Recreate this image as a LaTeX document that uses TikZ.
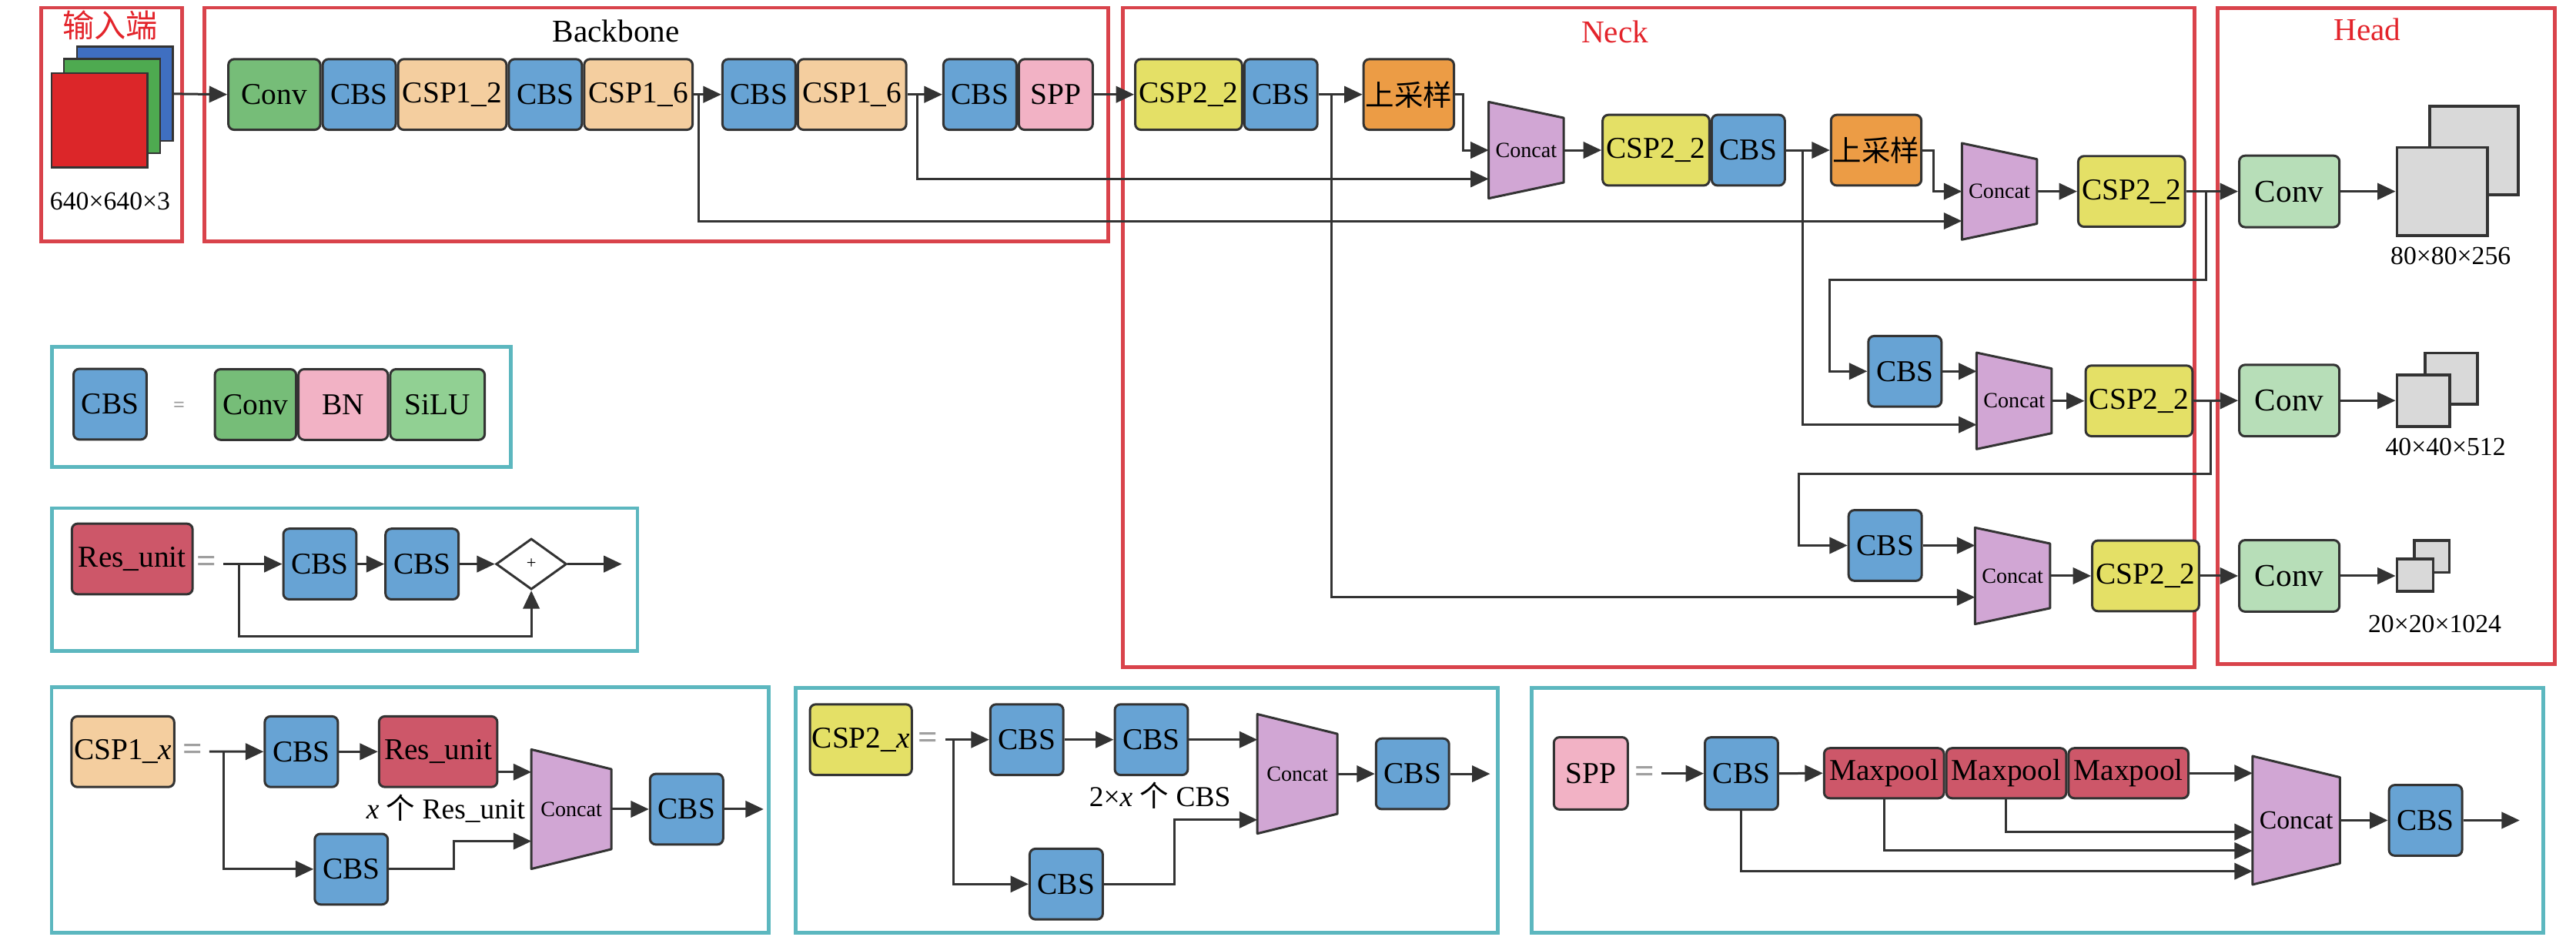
\documentclass[tikz,border=0pt]{standalone}
\usepackage{fontspec}
\setmainfont{Liberation Serif}
\newfontfamily\cjk{Noto Sans CJK SC}
\usepackage{xcolor}
\usepackage{tikz}
\usetikzlibrary{positioning, arrows.meta, calc, shapes.geometric, backgrounds}

\definecolor{linec}{HTML}{333333}
\definecolor{cbsc}{HTML}{67A3D4}
\definecolor{convc}{HTML}{76BD78}
\definecolor{csp1c}{HTML}{F4CE9F}
\definecolor{sppc}{HTML}{F2B2C5}
\definecolor{csp2c}{HTML}{E4E066}
\definecolor{upc}{HTML}{EC9C45}
\definecolor{catc}{HTML}{D1A6D4}
\definecolor{hconvc}{HTML}{B7DEB8}
\definecolor{fmc}{HTML}{D9D9D9}
\definecolor{resc}{HTML}{CD5769}
\definecolor{siluc}{HTML}{91D093}
\definecolor{framer}{HTML}{D9434B}
\definecolor{framet}{HTML}{5CB7BF}
\definecolor{titler}{HTML}{E3242B}
\definecolor{imgblue}{HTML}{3F6FC1}
\definecolor{imggreen}{HTML}{4EAA50}
\definecolor{imgred}{HTML}{DC2629}

\newcommand{\concatshape}[1]{%
  \filldraw[fill=catc, draw=linec, line width=0.8pt, line join=round]
    (#1.north west) -- ($(#1.north east)!0.165!(#1.south east)$)
    -- ($(#1.south east)!0.165!(#1.north east)$) -- (#1.south west) -- cycle;}

\begin{document}
\begin{tikzpicture}[x=0.02cm, y=-0.02cm, font=\fontsize{10.5}{12}\selectfont,
    blk/.style={draw=linec, line width=0.8pt, rounded corners=2pt, inner sep=0pt, minimum height=0.86cm},
    cbs/.style={blk, fill=cbsc, minimum width=0.89cm},
    csp1/.style={blk, fill=csp1c, minimum width=1.32cm},
    csp2/.style={blk, fill=csp2c, minimum width=1.3cm},
    up/.style={blk, fill=upc, minimum width=1.1cm, font=\fontsize{10}{12}\selectfont\cjk},
    hconv/.style={blk, fill=hconvc, minimum width=1.22cm, minimum height=0.87cm, font=\fontsize{11}{13}\selectfont},
    mp/.style={blk, fill=resc, minimum width=1.46cm, minimum height=0.61cm},
    cat/.style={inner sep=0pt, minimum width=0.9cm, minimum height=1.16cm, font=\fontsize{7.5}{9}\selectfont},
    catbig/.style={cat, minimum width=0.96cm, minimum height=1.44cm},
    catspp/.style={cat, minimum width=1.05cm, minimum height=1.55cm, font=\fontsize{9}{10}\selectfont},
    fm/.style={draw=linec, line width=1pt, fill=fmc, inner sep=0pt},
    imgsq/.style={draw=linec, line width=0.6pt, inner sep=0pt, minimum width=1.17cm, minimum height=1.15cm},
    sum/.style={diamond, draw=linec, line width=0.8pt, fill=white, inner sep=0pt, aspect=1.4,
      minimum width=0.86cm, minimum height=0.62cm, font=\fontsize{6}{7}\selectfont},
    eqb/.style={text=gray!75, font=\fontsize{12}{12}\selectfont\bfseries},
    eqs/.style={text=gray!75, font=\fontsize{7}{7}\selectfont\bfseries},
    dim/.style={font=\fontsize{9}{10}\selectfont},
    ttl/.style={font=\fontsize{11}{13}\selectfont},
    arr/.style={-{Triangle[length=2.2mm,width=2mm]}, draw=linec, line width=0.8pt},
    redframe/.style={draw=framer, line width=1.3pt},
    tealframe/.style={draw=framet, line width=1.3pt}]

  \useasboundingbox (0,0) rectangle (1568,576);

  % frames
  \draw[redframe] (25,4.7) rectangle (111,147);
  \draw[redframe] (124.5,4.7) rectangle (674.5,147);
  \draw[redframe] (683.5,4.7) rectangle (1335.6,406);
  \draw[redframe] (1350,5) rectangle (1555,404);
  \draw[tealframe] (31.75,211) rectangle (311,284.3);
  \draw[tealframe] (31.75,309.3) rectangle (388,396.4);
  \draw[tealframe] (31.4,418.3) rectangle (467.9,567.8);
  \draw[tealframe] (484.3,418.6) rectangle (911.8,567.8);
  \draw[tealframe] (932.1,418.6) rectangle (1548.1,567.8);

  \node[ttl, text=titler] (tin) at (67,15.6) {\cjk 输入端};
  \node[ttl] (tbb) at (375,18.7) {Backbone};
  \node[ttl, text=titler] (tneck) at (983,19.5) {Neck};
  \node[ttl, text=titler] (thead) at (1441,18.2) {Head};

  % input
  \node[imgsq, fill=imgblue] (imgb) at (76,57.1) {};
  \node[imgsq, fill=imggreen] (imgg) at (68.2,64.6) {};
  \node[imgsq, fill=imgred] (imgr) at (60.5,73.2) {};
  \node[dim] (din) at (67,122.6) {640×640×3};

  % backbone
  \node[blk, fill=convc, minimum width=1.12cm] (conv0) at (167,57.5) {Conv};
  \node[cbs, right=0pt of conv0] (cbs1) {CBS};
  \node[csp1, right=0pt of cbs1] (csp12) {CSP1\_2};
  \node[cbs, right=0pt of csp12] (cbs2) {CBS};
  \node[csp1, right=0pt of cbs2] (csp16a) {CSP1\_6};
  \node[cbs] (cbs3) at (462,57.5) {CBS};
  \node[csp1, right=0pt of cbs3] (csp16b) {CSP1\_6};
  \node[cbs] (cbs5) at (596.5,57.5) {CBS};
  \node[blk, fill=sppc, minimum width=0.9cm, right=0pt of cbs5] (spp) {SPP};

  % neck
  \node[csp2] (csp2a) at (723.5,57.5) {CSP2\_2};
  \node[cbs, right=0pt of csp2a] (cbs6) {CBS};
  \node[up] (up1) at (857.5,57.5) {上采样};
  \node[cat] (cat1) at (929,91.4) {Concat};
  \node[csp2] (csp2b) at (1008,91.4) {CSP2\_2};
  \node[cbs, right=0pt of csp2b] (cbs7) {CBS};
  \node[up] (up2) at (1142,91.4) {上采样};
  \node[cat] (cat2) at (1217,116.5) {Concat};
  \node[csp2] (csp2c) at (1297.5,116.5) {CSP2\_2};
  \node[cbs] (cbs8) at (1159.5,226) {CBS};
  \node[cat] (cat3) at (1226,244) {Concat};
  \node[csp2] (csp2d) at (1302,244) {CSP2\_2};
  \node[cbs] (cbs9) at (1147.5,332) {CBS};
  \node[cat] (cat4) at (1225,350.5) {Concat};
  \node[csp2] (csp2e) at (1306,350.5) {CSP2\_2};

  % head
  \node[hconv] (hc1) at (1393.5,116.5) {Conv};
  \node[hconv] (hc2) at (1393.5,243.8) {Conv};
  \node[hconv] (hc3) at (1393.5,350.5) {Conv};
  \node[fm, minimum width=1.08cm, minimum height=1.08cm] (fm1b) at (1506,91.5) {};
  \node[fm, minimum width=1.1cm, minimum height=1.07cm] (fm1f) at (1486.5,116.5) {};
  \node[fm, minimum width=0.64cm, minimum height=0.62cm] (fm2b) at (1492,230.4) {};
  \node[fm, minimum width=0.64cm, minimum height=0.63cm] (fm2f) at (1475,243.8) {};
  \node[fm, minimum width=0.43cm, minimum height=0.39cm] (fm3b) at (1480.2,338.6) {};
  \node[fm, minimum width=0.44cm, minimum height=0.39cm] (fm3f) at (1470,350) {};
  \node[dim] (d1) at (1491.7,156) {80×80×256};
  \node[dim] (d2) at (1488.6,272) {40×40×512};
  \node[dim] (d3) at (1482,380) {20×20×1024};

  \draw[arr] (imgb.east) -- (conv0.west);
  \draw[arr] (csp16a.east) -- (cbs3.west);
  \draw[arr] (csp16b.east) -- (cbs5.west);
  \draw[arr] (spp.east) -- (csp2a.west);
  \draw[arr] (cbs6.east) -- (up1.west);
  \draw[arr] (up1.east) -- ++(5,0) |- (cat1.west);
  \draw[arr] (cat1.east) -- (csp2b.west);
  \draw[arr] (cbs7.east) -- (up2.west);
  \draw[arr] (up2.east) -- ++(6.5,0) |- (cat2.west);
  \draw[arr] (cat2.east) -- (csp2c.west);
  \draw[arr] ($(csp16a.east)+(3,0)$) |- ($(cat2.west)+(0,18)$);
  \draw[arr] ($(csp16b.east)+(6,0)$) |- ($(cat1.west)+(0,17.5)$);
  \draw[arr] ($(cbs6.east)+(8,0)$) |- ($(cat4.west)+(0,13)$);
  \draw[arr] ($(cbs7.east)+(10,0)$) |- ($(cat3.west)+(0,14.5)$);
  \draw[arr] (csp2c.east) -- (hc1.west);
  \draw[arr] ($(csp2c.east)+(12,0)$) -- ++(0,54) -| ($(cbs8.west)+(-23,0)$) -- (cbs8.west);
  \draw[arr] (cbs8.east) -- (cbs8.east -| cat3.west);
  \draw[arr] (cat3.east) -- (csp2d.west);
  \draw[arr] (csp2d.east) -- (hc2.west);
  \draw[arr] ($(csp2d.east)+(10.5,0)$) -- ++(0,44.3) -| ($(cbs9.west)+(-29.5,0)$) -- (cbs9.west);
  \draw[arr] (cbs9.east) -- (cbs9.east -| cat4.west);
  \draw[arr] (cat4.east) -- (csp2e.west);
  \draw[arr] (csp2e.east) -- (hc3.west);
  \draw[arr] (hc1.east) -- (hc1.east -| fm1f.west);
  \draw[arr] (hc2.east) -- (hc2.east -| fm2f.west);
  \draw[arr] (hc3.east) -- (hc3.east -| fm3f.west);

  % CBS panel
  \node[cbs] (kcbs) at (67,246) {CBS};
  \node[eqs] (keq) at (109,247.6) {=};
  \node[blk, fill=convc, minimum width=0.99cm] (kconv) at (155.5,246.2) {Conv};
  \node[blk, fill=sppc, minimum width=1.09cm, right=0pt of kconv] (kbn) {BN};
  \node[blk, fill=siluc, minimum width=1.15cm, right=0pt of kbn] (ksilu) {SiLU};

  % Res_unit panel
  \node[blk, fill=resc, minimum width=1.47cm] (rres) at (80.5,340.2) {Res\_unit};
  \node[eqb] (req) at (125.7,343.5) {=};
  \coordinate (rin) at (136,343.3);
  \coordinate (rsplit) at (145.5,343.3);
  \node[cbs] (rcbs1) at (194.7,343.3) {CBS};
  \node[cbs] (rcbs2) at (256.9,343.3) {CBS};
  \node[sum] (rsum) at (323.4,343.3) {+};
  \coordinate (rout) at (378.5,343.3);
  \draw[arr] (rin) -- (rcbs1.west);
  \draw[arr] (rcbs1.east) -- (rcbs2.west);
  \draw[arr] (rcbs2.east) -- (rsum.west);
  \draw[arr] (rsum.east) -- (rout);
  \draw[arr] (rsplit) -- ++(0,44) -| (rsum.south);

  % CSP1_x panel
  \node[csp1, minimum width=1.25cm] (pcsp1) at (74.8,457.5) {CSP1\_\textit{x}};
  \node[eqb] (peq) at (117.3,458) {=};
  \coordinate (pin) at (127.4,457.4);
  \coordinate (psp) at (136.2,457.4);
  \node[cbs] (pcbs1) at (183.4,457.5) {CBS};
  \node[blk, fill=resc, minimum width=1.44cm] (pres) at (266.7,457.5) {Res\_unit};
  \node[font=\fontsize{10}{12}\selectfont] (pnote) at (271.3,492) {\textit{x} {\cjk 个} Res\_unit};
  \node[catbig] (pcat) at (347.8,492.5) {Concat};
  \node[cbs] (pcbs2) at (417.9,492.5) {CBS};
  \coordinate (pout) at (464.8,492.5);
  \node[cbs] (pcbs3) at (213.8,529) {CBS};
  \coordinate (pr) at ($(pres.east)+(0,12.4)$);
  \draw[arr] (pin) -- (pcbs1.west);
  \draw[arr] (pcbs1.east) -- (pres.west);
  \draw[arr] (pr) -- (pr -| pcat.west);
  \draw[arr] (psp) |- (pcbs3.west);
  \draw[arr] (pcbs3.east) -- ++(39.6,0) |- ($(pcat.west)+(0,19.5)$);
  \draw[arr] (pcat.east) -- (pcbs2.west);
  \draw[arr] (pcbs2.east) -- (pout);

  % CSP2_x panel
  \node[csp2, minimum width=1.24cm] (qcsp2) at (524,450.2) {CSP2\_\textit{x}};
  \node[eqb] (qeq) at (564.6,451) {=};
  \coordinate (qin) at (575.5,450.2);
  \coordinate (qsp) at (580.4,450.2);
  \node[cbs] (qcbs1) at (625,450.2) {CBS};
  \node[cbs] (qcbs2) at (700.8,450.2) {CBS};
  \node[catbig] (qcat) at (789.7,471) {Concat};
  \node[font=\fontsize{10}{12}\selectfont] (qnote) at (706,484.2) {2×\textit{x} {\cjk 个} CBS};
  \node[cbs] (qcbs3) at (859.8,471) {CBS};
  \coordinate (qout) at (907,471);
  \node[cbs] (qcbs4) at (649,538.1) {CBS};
  \draw[arr] (qin) -- (qcbs1.west);
  \draw[arr] (qcbs1.east) -- (qcbs2.west);
  \draw[arr] (qcbs2.east) -- (qcbs2.east -| qcat.west);
  \draw[arr] (qsp) |- (qcbs4.west);
  \draw[arr] (qcbs4.east) -- ++(43,0) |- ($(qcat.west)+(0,28)$);
  \draw[arr] (qcat.east) -- (qcbs3.west);
  \draw[arr] (qcbs3.east) -- (qout);

  % SPP panel
  \node[blk, fill=sppc, minimum width=0.9cm, minimum height=0.88cm] (sspp) at (968.3,470.7) {SPP};
  \node[eqb] (seq) at (1001.2,471.4) {=};
  \coordinate (sin) at (1011.5,470.8);
  \node[cbs, minimum height=0.88cm] (scbs1) at (1060,470.8) {CBS};
  \node[mp] (smp1) at (1146.8,470.6) {Maxpool};
  \node[mp, right=0pt of smp1] (smp2) {Maxpool};
  \node[mp, right=0pt of smp2] (smp3) {Maxpool};
  \node[catspp] (scat) at (1397.7,499.3) {Concat};
  \node[cbs] (scbs2) at (1476.4,499.3) {CBS};
  \coordinate (sout) at (1533.7,499.3);
  \draw[arr] (sin) -- (scbs1.west);
  \draw[arr] (scbs1.east) -- (smp1.west);
  \draw[arr] (smp3.east) -- (smp3.east -| scat.west);
  \draw[arr] (smp2.south) |- ($(scat.west)+(0,7.1)$);
  \draw[arr] (smp1.south) |- ($(scat.west)+(0,18.5)$);
  \draw[arr] (scbs1.south) |- ($(scat.west)+(0,31)$);
  \draw[arr] (scat.east) -- (scbs2.west);
  \draw[arr] (scbs2.east) -- (sout);

  \begin{scope}[on background layer]
    \foreach \c in {cat1,cat2,cat3,cat4,pcat,qcat,scat} {\concatshape{\c}}
  \end{scope}
\end{tikzpicture}
\end{document}
